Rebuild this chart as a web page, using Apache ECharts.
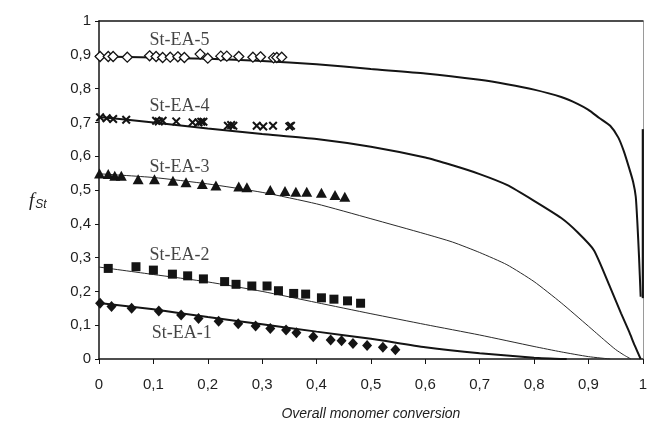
<!DOCTYPE html>
<html>
<head>
<meta charset="utf-8">
<script src="https://cdn.jsdelivr.net/npm/echarts@6/dist/echarts.min.js"></script>
<style>
  html, body { margin: 0; padding: 0; background: #fff; }
  #chart { width: 650px; height: 426px; }
</style>
</head>
<body>
<div id="chart"></div>
<script>
// Tick labels (decimal comma)
const tickLabels = ['0', '0,1', '0,2', '0,3', '0,4', '0,5', '0,6', '0,7', '0,8', '0,9', '1'];

// Measured styrene fraction vs. overall conversion
const ea5X = [0.002, 0.017, 0.026, 0.052, 0.093, 0.105, 0.117, 0.131, 0.145, 0.157, 0.186, 0.2, 0.224, 0.235, 0.257, 0.283, 0.297, 0.321, 0.327, 0.336];
const ea5Y = [0.895, 0.895, 0.895, 0.893, 0.897, 0.895, 0.892, 0.893, 0.894, 0.892, 0.902, 0.89, 0.896, 0.896, 0.895, 0.893, 0.894, 0.891, 0.892, 0.893];

const ea4X = [0.002, 0.014, 0.026, 0.05, 0.105, 0.11, 0.117, 0.142, 0.172, 0.183, 0.188, 0.192, 0.237, 0.243, 0.247, 0.29, 0.302, 0.32, 0.35, 0.353];
const ea4Y = [0.715, 0.712, 0.71, 0.708, 0.705, 0.703, 0.705, 0.703, 0.70, 0.70, 0.702, 0.702, 0.69, 0.692, 0.69, 0.69, 0.688, 0.69, 0.688, 0.69];

const ea3X = [0.001, 0.017, 0.029, 0.041, 0.072, 0.102, 0.136, 0.16, 0.19, 0.215, 0.257, 0.272, 0.315, 0.342, 0.362, 0.382, 0.409, 0.434, 0.452];
const ea3Y = [0.549, 0.547, 0.542, 0.542, 0.532, 0.532, 0.527, 0.523, 0.518, 0.513, 0.51, 0.508, 0.50, 0.497, 0.495, 0.495, 0.492, 0.485, 0.48];

const ea2X = [0.017, 0.068, 0.1, 0.135, 0.163, 0.192, 0.231, 0.252, 0.281, 0.309, 0.330, 0.358, 0.38, 0.409, 0.432, 0.457, 0.481];
const ea2Y = [0.268, 0.273, 0.263, 0.251, 0.246, 0.237, 0.229, 0.221, 0.216, 0.216, 0.202, 0.194, 0.192, 0.181, 0.177, 0.172, 0.165];

const ea1X = [0.002, 0.023, 0.06, 0.11, 0.151, 0.183, 0.22, 0.256, 0.288, 0.315, 0.344, 0.363, 0.394, 0.426, 0.446, 0.467, 0.493, 0.522, 0.545];
const ea1Y = [0.165, 0.155, 0.15, 0.142, 0.13, 0.12, 0.112, 0.104, 0.098, 0.09, 0.086, 0.078, 0.066, 0.056, 0.054, 0.046, 0.04, 0.035, 0.027];

// Model curves
const fit5X = [0, 0.1, 0.2, 0.3, 0.4, 0.5, 0.6, 0.7, 0.75, 0.8, 0.85, 0.88, 0.9, 0.92, 0.94, 0.955, 0.965, 0.975, 0.982, 0.987, 0.990, 0.993, 0.996];
const fit5Y = [0.895, 0.892, 0.888, 0.882, 0.872, 0.858, 0.845, 0.826, 0.813, 0.797, 0.775, 0.755, 0.737, 0.713, 0.69, 0.655, 0.615, 0.564, 0.525, 0.48, 0.402, 0.303, 0.184];
const edge5X = [1, 1];
const edge5Y = [0.18, 0.68];

const fit4X = [0, 0.1, 0.2, 0.3, 0.4, 0.5, 0.6, 0.65, 0.7, 0.75, 0.8, 0.85, 0.88, 0.91, 0.94, 0.96, 0.975, 0.985, 0.996];
const fit4Y = [0.716, 0.70, 0.682, 0.666, 0.651, 0.628, 0.596, 0.573, 0.547, 0.515, 0.468, 0.417, 0.375, 0.322, 0.212, 0.135, 0.08, 0.04, 0.0];

const fit3X = [0, 0.1, 0.2, 0.3, 0.4, 0.5, 0.6, 0.65, 0.7, 0.75, 0.8, 0.85, 0.9, 0.93, 0.95, 0.965, 0.978];
const fit3Y = [0.548, 0.537, 0.518, 0.493, 0.459, 0.415, 0.370, 0.346, 0.315, 0.279, 0.229, 0.166, 0.097, 0.055, 0.028, 0.012, 0.0];

const fit2X = [0, 0.1, 0.2, 0.3, 0.4, 0.5, 0.6, 0.7, 0.8, 0.85, 0.9, 0.94];
const fit2Y = [0.272, 0.25, 0.228, 0.2, 0.167, 0.134, 0.102, 0.071, 0.037, 0.021, 0.007, 0];

const fit1X = [0, 0.1, 0.2, 0.3, 0.4, 0.5, 0.6, 0.7, 0.8, 0.86];
const fit1Y = [0.166, 0.147, 0.124, 0.103, 0.081, 0.06, 0.035, 0.017, 0.004, 0];

// Sample names and where they are written
const names = ['St-EA-5', 'St-EA-4', 'St-EA-3', 'St-EA-2', 'St-EA-1'];
const nameX = [0.093, 0.093, 0.093, 0.093, 0.097];
const nameY = [0.944, 0.748, 0.568, 0.308, 0.077];

const pairs = (xs, ys) => xs.map((x, i) => [x, ys[i]]);
const INK = '#141414';
const crossPath = 'path://M0,1.6L1.6,0L5,3.4L8.4,0L10,1.6L6.6,5L10,8.4L8.4,10L5,6.6L1.6,10L0,8.4L3.4,5Z';

function curve(name, xs, ys, width, color) {
  return {
    name, type: 'line', data: pairs(xs, ys), showSymbol: false, smooth: 0.2,
    lineStyle: { color, width }, silent: true, z: 2
  };
}
function points(name, xs, ys, symbol, size, itemStyle) {
  return {
    name, type: 'scatter', data: pairs(xs, ys), symbol, symbolSize: size,
    itemStyle: Object.assign({ opacity: 1 }, itemStyle), z: 3
  };
}

const chart = echarts.init(document.getElementById('chart'), null, { renderer: 'canvas' });
chart.setOption({
  animation: false,
  backgroundColor: '#fff',
  grid: { left: 99, right: 3, top: 21, bottom: 67 },
  xAxis: [{
    type: 'value', min: 0, max: 1, interval: 0.1,
    axisLine: { lineStyle: { color: INK, width: 1.5 } },
    axisTick: { show: true, length: 5, lineStyle: { color: INK, width: 1 } },
    splitLine: { show: false },
    axisLabel: {
      margin: 18, color: '#1e1e1e', fontFamily: 'Liberation Sans', fontSize: 15,
      formatter: (v, i) => tickLabels[i]
    },
    name: 'Overall monomer conversion', nameLocation: 'middle', nameGap: 48,
    nameTextStyle: { color: '#1e1e1e', fontFamily: 'Liberation Sans', fontSize: 14, fontStyle: 'italic' }
  }, {
    type: 'value', min: 0, max: 1, position: 'top',
    axisLine: { show: true, onZero: false, lineStyle: { color: INK, width: 1.5 } },
    axisTick: { show: false }, axisLabel: { show: false }, splitLine: { show: false }
  }],
  yAxis: [{
    type: 'value', min: 0, max: 1, interval: 0.1,
    axisLine: { show: true, lineStyle: { color: INK, width: 1.5 } },
    axisTick: { show: true, length: 4, lineStyle: { color: INK, width: 1 } },
    splitLine: { show: false },
    axisLabel: {
      margin: 8, color: '#1e1e1e', fontFamily: 'Liberation Sans', fontSize: 15,
      formatter: (v, i) => tickLabels[i]
    }
  }, {
    type: 'value', min: 0, max: 1, position: 'right',
    axisLine: { show: true, onZero: false, lineStyle: { color: '#9a9a9a', width: 1 } },
    axisTick: { show: false }, axisLabel: { show: false }, splitLine: { show: false }
  }],
  graphic: [{
    type: 'text', left: 29, top: 191,
    style: {
      text: '{f|f}{s|St}',
      rich: {
        f: { fontFamily: 'Liberation Serif', fontStyle: 'italic', fontSize: 19, fill: '#1e1e1e' },
        s: { fontFamily: 'Liberation Sans', fontStyle: 'italic', fontSize: 12, fill: '#1e1e1e', padding: [9, 0, 0, 1] }
      }
    }
  }],
  series: [
    curve('fit5', fit5X, fit5Y, 2, INK),
    curve('edge5', edge5X, edge5Y, 2.2, INK),
    curve('fit4', fit4X, fit4Y, 2, INK),
    curve('fit3', fit3X, fit3Y, 1, '#2a2a2a'),
    curve('fit2', fit2X, fit2Y, 1, '#2a2a2a'),
    curve('fit1', fit1X, fit1Y, 2, INK),
    points('St-EA-5', ea5X, ea5Y, 'diamond', [10, 10], { color: '#fff', borderColor: INK, borderWidth: 1.3 }),
    points('St-EA-4', ea4X, ea4Y, crossPath, 9, { color: INK }),
    points('St-EA-3', ea3X, ea3Y, 'triangle', [11, 10], { color: INK }),
    points('St-EA-2', ea2X, ea2Y, 'rect', 9, { color: INK }),
    points('St-EA-1', ea1X, ea1Y, 'diamond', [10, 11], { color: INK }),
    {
      name: 'names', type: 'scatter', symbolSize: 0, silent: true, z: 4,
      data: names.map((n, i) => ({ value: [nameX[i], nameY[i]], name: n })),
      label: {
        show: true, position: 'inside', align: 'left', verticalAlign: 'middle',
        formatter: p => p.name,
        fontFamily: 'Liberation Serif', fontSize: 18, color: '#141414'
      }
    }
  ]
});
</script>
</body>
</html>
